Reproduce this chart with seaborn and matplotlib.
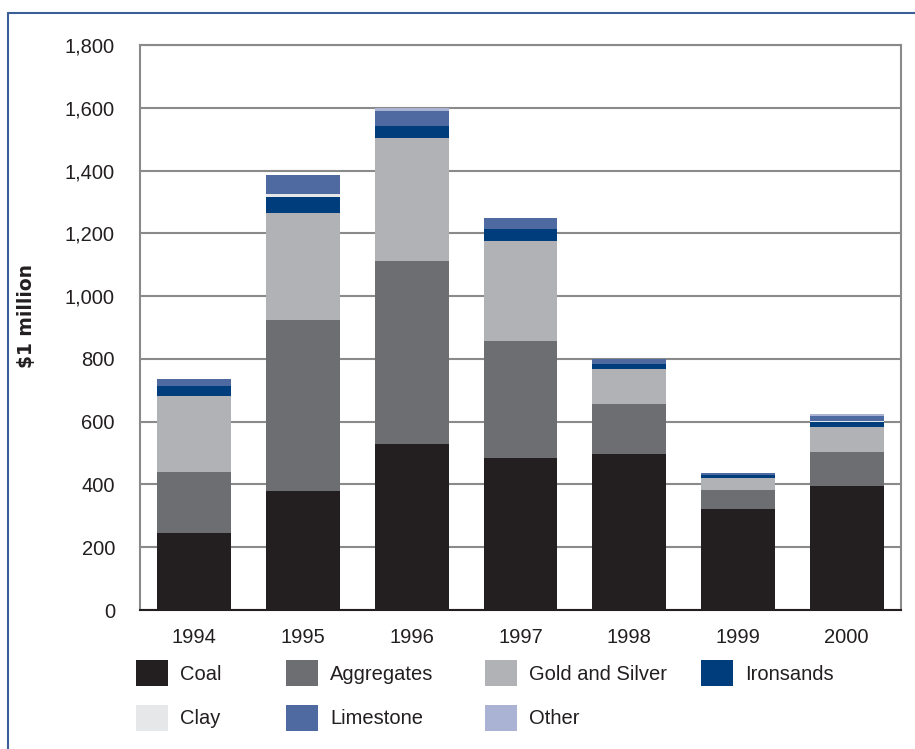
import matplotlib
matplotlib.use("Agg")
import matplotlib.pyplot as plt
from matplotlib.patches import Rectangle
from matplotlib.lines import Line2D
import seaborn as sns
import pandas as pd
import numpy as np

years = ["1994", "1995", "1996", "1997", "1998", "1999", "2000"]
series = ["Coal", "Aggregates", "Gold and Silver", "Ironsands", "Clay", "Limestone", "Other"]
coal = [245, 379, 529, 484, 497, 322, 395]
aggregates = [195, 545, 583, 373, 159, 60, 108]
gold_silver = [242, 341, 392, 319, 112, 39, 80]
ironsands = [32, 51, 38, 38, 16, 8, 16]
clay = [0, 10, 0, 0, 0, 0, 3]
limestone = [22, 60, 48, 35, 15, 7, 16]
other = [0, 0, 8, 0, 0, 0, 6]
colors = ["#231f20", "#6d6e71", "#b1b2b5", "#003d7c", "#e6e7e8", "#4f6aa1", "#aab3d3"]
yticks = [0, 200, 400, 600, 800, 1000, 1200, 1400, 1600, 1800]

sns.set_style("white")
plt.rcParams["font.family"] = ["Liberation Sans", "DejaVu Sans"]

values = [coal, aggregates, gold_silver, ironsands, clay, limestone, other]
cum = np.cumsum(np.array(values, dtype=float), axis=0)

W, H = 915, 749
fig = plt.figure(figsize=(W / 100, H / 100), dpi=100)
ax = fig.add_axes([140 / W, 1 - 610 / H, 761 / W, 565 / H])

# draw cumulative totals from top layer down so each layer shows
for i in range(len(series) - 1, -1, -1):
    df = pd.DataFrame({"Year": years, "Value": cum[i]})
    sns.barplot(data=df, x="Year", y="Value", order=years, color=colors[i],
                saturation=1, width=0.68, linewidth=0, ax=ax, zorder=3)

ax.set_ylim(0, 1800)
ax.set_xlim(-0.5, len(years) - 0.5)
ax.set_yticks(yticks)
ax.set_yticklabels([f"{v:,}" for v in yticks], fontsize=14.5, color="#231f20")
ax.yaxis.grid(True, color="#8a8a8a", linewidth=1.5, zorder=0)
ax.set_axisbelow(True)
ax.tick_params(axis="y", length=0, pad=18)
ax.set_xticks(range(len(years)))
ax.set_xticklabels(years, fontsize=14.5, color="#231f20")
ax.set_xticks(np.arange(-0.5, len(years), 1), minor=True)
ax.tick_params(axis="x", which="major", length=0, pad=13)
ax.tick_params(axis="x", which="minor", length=8, width=1.5, color="#231f20")
ax.set_xlabel("")
ax.set_ylabel("$1 million".replace("$", r"\$"), fontsize=13.5, fontweight="bold",
              fontfamily="DejaVu Sans", color="#231f20")
ax.yaxis.set_label_coords((36 - 140) / 761, (610 - 316) / 565)
for s in ["left", "right", "top"]:
    ax.spines[s].set_color("#8a8a8a")
    ax.spines[s].set_linewidth(1.5)
ax.spines["bottom"].set_color("#231f20")
ax.spines["bottom"].set_linewidth(1.5)

# legend, drawn manually to mimic the grid layout
hx = [136, 286, 485, 701]
rows = [673, 718]
for k, name in enumerate(series):
    r, c = divmod(k, 4)
    x0, yc = hx[c], rows[r]
    fig.add_artist(Rectangle((x0 / W, 1 - (yc + 13) / H), 32 / W, 26 / H,
                             transform=fig.transFigure, facecolor=colors[k],
                             edgecolor="none"))
    fig.text((x0 + 44) / W, 1 - (yc + 1) / H, name, fontsize=14.5, va="center",
             ha="left", color="#231f20")

# outer frame
fig.add_artist(Line2D([8 / W, 8 / W], [0, 1 - 13 / H], transform=fig.transFigure,
                      color="#3d5f99", linewidth=1.5))
fig.add_artist(Line2D([8 / W, 1], [1 - 13 / H, 1 - 13 / H], transform=fig.transFigure,
                      color="#3d5f99", linewidth=1.5))

fig.savefig("out.png", dpi=100)
